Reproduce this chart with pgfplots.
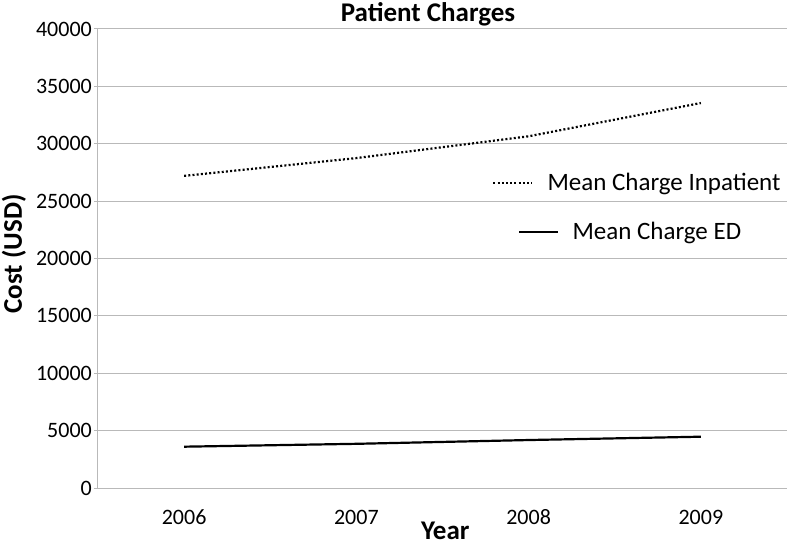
\documentclass[border=0pt]{standalone}
\usepackage{pgfplots}
\pgfplotsset{compat=1.18}
\usepackage{fontspec}
\setmainfont{Carlito}
\definecolor{gridgray}{RGB}{185,185,185}
\begin{document}
\begin{tikzpicture}
\begin{axis}[
  scale only axis,
  width=689pt, height=459pt,
  xmin=-0.5, xmax=3.5,
  ymin=0, ymax=40000,
  xtick={0,1,2,3},
  xticklabels={2006,2007,2008,2009},
  minor xtick={-0.5,0.5,1.5,2.5,3.5},
  ytick={0,5000,...,40000},
  axis x line*=bottom,
  axis y line*=left,
  axis line style={gridgray, line width=1pt, -},
  tick align=outside,
  major tick length=4pt,
  minor tick length=7pt,
  xtick style={draw=none},
  minor x tick style={gridgray, line width=1pt},
  ytick style={gridgray, line width=1pt},
  ymajorgrids,
  major grid style={gridgray, line width=1pt},
  scaled y ticks=false,
  /pgf/number format/assume math mode=true,
  yticklabel={\pgfmathprintnumber[fixed,1000 sep={}]{\tick}},
  tick label style={font=\fontsize{22}{24}\selectfont, black},
  yticklabel style={inner sep=0pt, xshift=-2pt},
  xticklabel style={anchor=base, inner sep=0pt, yshift=-32pt},
  title={Patient Charges},
  title style={font=\fontsize{27}{30}\selectfont\bfseries, at={(axis description cs:0.479,1)}, anchor=base, yshift=1pt, inner sep=0pt},
  xlabel={Year},
  xlabel style={font=\fontsize{27}{30}\selectfont\bfseries, at={(axis description cs:0.504,0)}, anchor=base, yshift=-51pt, inner sep=0pt},
  ylabel={Cost (USD)},
  ylabel style={font=\fontsize{27}{30}\selectfont\bfseries, at={(axis description cs:0,0.51)}, anchor=center, yshift=84pt, inner sep=0pt},
  legend style={at={(axis description cs:0.572,0.686)}, anchor=north west, draw=none, fill=none,
    font=\fontsize{25}{27}\selectfont, inner sep=0pt, row sep=30pt, column sep=13pt,
    nodes={inner sep=0pt}},
  legend cell align=left,
  clip=false,
]
\addplot[black, line width=2.2pt, dash pattern=on 2pt off 2.2pt,
  legend image code/.code={\draw[black, line width=2.2pt, dash pattern=on 2pt off 2.2pt] (0pt,0pt) -- (38pt,0pt);}]
  coordinates {(0,27200) (1,28750) (2,30650) (3,33550)};
\addlegendentry{\hspace*{-25pt}Mean Charge Inpatient}
\addplot[black, line width=2.2pt,
  legend image code/.code={\draw[black, line width=2.2pt] (26pt,0pt) -- (65pt,0pt);}]
  coordinates {(0,3600) (1,3850) (2,4180) (3,4470)};
\addlegendentry{Mean Charge ED}
\coordinate (O) at (rel axis cs:0,0);
\end{axis}
\pgfresetboundingbox
\path ([shift={(-98pt,-58pt)}]O) rectangle ([shift={(694pt,488pt)}]O);
\end{tikzpicture}
\end{document}
